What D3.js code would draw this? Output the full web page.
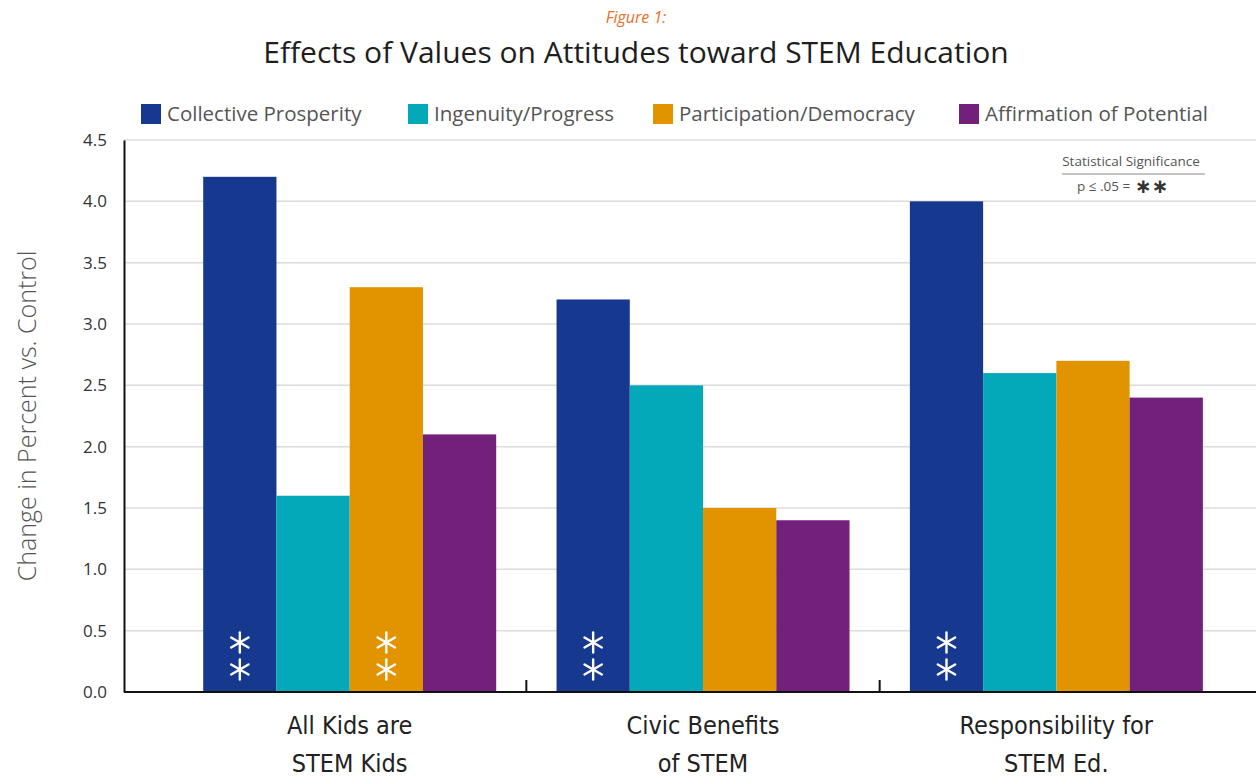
<!DOCTYPE html>
<html><head><meta charset="utf-8">
<script src="https://cdn.jsdelivr.net/npm/d3@7"></script>
<style>
html,body{margin:0;padding:0;background:#fff;}
svg{display:block;}
</style></head>
<body>
<svg id="chart" width="1256" height="777"></svg>
<script>
const categories = [["All Kids are","STEM Kids"],["Civic Benefits","of STEM"],["Responsibility for","STEM Ed."]];
const categoryKeys = ["All Kids are STEM Kids","Civic Benefits of STEM","Responsibility for STEM Ed."];
const seriesNames = ["Collective Prosperity","Ingenuity/Progress","Participation/Democracy","Affirmation of Potential"];
const collectiveProsperity = [4.2, 3.2, 4.0];
const ingenuityProgress = [1.6, 2.5, 2.6];
const participationDemocracy = [3.3, 1.5, 2.7];
const affirmationPotential = [2.1, 1.4, 2.4];
const significant = [[true,false,true,false],[true,false,false,false],[true,false,false,false]];
const yTicks = [0,0.5,1,1.5,2,2.5,3,3.5,4,4.5];
const colors = ["#17388f","#04a9b9","#e19400","#73207a"];

const seriesValues = [collectiveProsperity, ingenuityProgress, participationDemocracy, affirmationPotential];
const data = categoryKeys.map((c,i)=>({cat:c, values: seriesNames.map((s,j)=>({series:s, value:seriesValues[j][i], sig:significant[i][j], idx:j}))}));

const svg = d3.select("#chart");
const axisX = 124, baseY = 692, topY = 140, rightX = 1256;

const y = d3.scaleLinear().domain([0,4.5]).range([baseY, topY]);
const x0 = d3.scaleBand().domain(categoryKeys).range([173,1233]).paddingInner(0).paddingOuter(0);
const x1 = d3.scaleBand().domain(seriesNames).range([30.2, 323.2]).padding(0);

// title
svg.append("text").attr("x",636).attr("y",23).attr("text-anchor","middle")
  .attr("font-family","Open Sans, sans-serif").attr("font-style","italic").attr("font-size",16)
  .attr("fill","#e8702a").text("Figure 1:");
svg.append("text").attr("x",636).attr("y",63).attr("text-anchor","middle")
  .attr("font-family","Open Sans, sans-serif").attr("font-size",30).attr("fill","#1e1e1e")
  .text("Effects of Values on Attitudes toward STEM Education");

// legend
const legendX = [141, 408, 653, 959];
const lg = svg.append("g");
seriesNames.forEach((s,i)=>{
  lg.append("rect").attr("x",legendX[i]).attr("y",104).attr("width",20).attr("height",20).attr("fill",colors[i]);
  lg.append("text").attr("x",legendX[i]+26).attr("y",121).attr("font-family","Open Sans, sans-serif")
    .attr("font-size",20.5).attr("fill","#555").text(s);
});

// gridlines
svg.append("g").selectAll("line").data(yTicks.filter(t=>t>0)).join("line")
  .attr("x1",axisX).attr("x2",rightX).attr("y1",d=>y(d)).attr("y2",d=>y(d))
  .attr("stroke","#dcdcdc").attr("stroke-width",1.5);

// y axis
const yAxis = svg.append("g").attr("transform",`translate(${axisX},0)`)
  .call(d3.axisLeft(y).tickValues(yTicks).tickFormat(d3.format(".1f")).tickSize(0).tickPadding(17));
yAxis.select(".domain").attr("stroke","#111").attr("stroke-width",2);
yAxis.selectAll("text").attr("font-family","Open Sans, sans-serif").attr("font-size",17).attr("fill","#333");

svg.append("text").attr("transform","translate(36,416) rotate(-90)").attr("text-anchor","middle")
  .attr("font-family","Open Sans, sans-serif").attr("font-size",25).attr("font-weight",300).attr("fill","#555")
  .text("Change in Percent vs. Control");

// bars
const groups = svg.append("g").selectAll("g").data(data).join("g")
  .attr("transform",d=>`translate(${x0(d.cat)},0)`);
groups.selectAll("rect").data(d=>d.values).join("rect")
  .attr("x",d=>x1(d.series)).attr("width",x1.bandwidth())
  .attr("y",d=>y(d.value)).attr("height",d=>y(0)-y(d.value))
  .attr("fill",d=>colors[d.idx]);

// asterisks
function star(g, cx, cy, r){
  for(let k=0;k<3;k++){
    const a = Math.PI/2 + k*Math.PI/3;
    g.append("line").attr("x1",cx-r*Math.cos(a)).attr("y1",cy-r*Math.sin(a))
      .attr("x2",cx+r*Math.cos(a)).attr("y2",cy+r*Math.sin(a))
      .attr("stroke","#fff").attr("stroke-width",2.4).attr("stroke-linecap","round");
  }
}
groups.each(function(d){
  const g = d3.select(this);
  d.values.filter(v=>v.sig).forEach(v=>{
    const cx = x1(v.series)+x1.bandwidth()/2;
    star(g, cx, y(0.42)+2, 10);
    star(g, cx, y(0.2)+2, 10);
  });
});

// x axis
svg.append("line").attr("x1",axisX).attr("x2",rightX).attr("y1",baseY).attr("y2",baseY)
  .attr("stroke","#111").attr("stroke-width",2);
svg.append("g").selectAll("line").data(categoryKeys.slice(1)).join("line")
  .attr("x1",d=>x0(d)).attr("x2",d=>x0(d)).attr("y1",baseY).attr("y2",baseY-12)
  .attr("stroke","#111").attr("stroke-width",2);

// x labels
const xl = svg.append("g").selectAll("text").data(categoryKeys).join("text")
  .attr("x",d=>x0(d)+x0.bandwidth()/2).attr("text-anchor","middle")
  .attr("font-family","DejaVu Sans Condensed, Liberation Sans Narrow, sans-serif").attr("font-size",25).attr("fill","#222");
xl.each(function(d,i){
  const t = d3.select(this);
  categories[i].forEach((line,k)=>{
    t.append("tspan").attr("x",x0(d)+x0.bandwidth()/2).attr("y",734+k*38).text(line);
  });
});

// significance note
svg.append("text").attr("x",1131).attr("y",166).attr("text-anchor","middle")
  .attr("font-family","Open Sans, sans-serif").attr("font-size",13.5).attr("fill","#555").text("Statistical Significance");
svg.append("line").attr("x1",1062).attr("x2",1205).attr("y1",174).attr("y2",174).attr("stroke","#888").attr("stroke-width",1);
svg.append("text").attr("x",1077).attr("y",191).attr("font-family","Open Sans, sans-serif").attr("font-size",13.5).attr("fill","#555").text("p ≤ .05 = ");
svg.append("text").attr("x",1135).attr("y",193).attr("font-family","DejaVu Sans, sans-serif").attr("font-size",20).attr("font-weight","bold").attr("fill","#333").text("∗∗");
</script>
</body></html>
